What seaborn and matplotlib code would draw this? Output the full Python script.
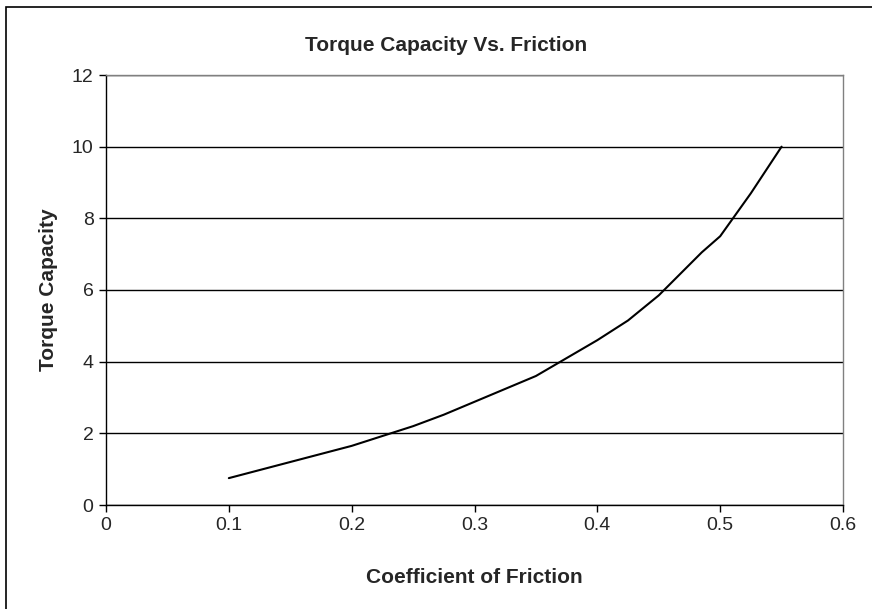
import matplotlib
matplotlib.use('Agg')
import matplotlib.pyplot as plt
import seaborn as sns
import pandas as pd
from matplotlib.patches import Rectangle

friction = [0.1, 0.2, 0.25, 0.275, 0.35, 0.4, 0.425, 0.45, 0.485, 0.5, 0.525, 0.55]
torque = [0.75, 1.65, 2.2, 2.52, 3.6, 4.6, 5.15, 5.85, 7.05, 7.5, 8.7, 10.0]

df = pd.DataFrame({'Coefficient of Friction': friction, 'Torque Capacity': torque})

sns.set_style('white')
plt.rcParams['font.family'] = ['Liberation Sans', 'DejaVu Sans']

fig = plt.figure(figsize=(8.72, 6.09), dpi=100)
ax = fig.add_axes([106/872, 1 - 505/609, 737/872, 430/609])

sns.lineplot(data=df, x='Coefficient of Friction', y='Torque Capacity', ax=ax,
             color='black', linewidth=1.5)

ax.set_xlim(0, 0.6)
ax.set_ylim(0, 12)
ax.set_xticks([0, 0.1, 0.2, 0.3, 0.4, 0.5, 0.6])
ax.set_xticklabels(['0', '0.1', '0.2', '0.3', '0.4', '0.5', '0.6'])
ax.set_yticks(range(0, 13, 2))
ax.yaxis.grid(True, color='black', linewidth=1)
ax.xaxis.grid(False)
ax.tick_params(axis='both', direction='out', length=5, width=1, color='black',
               labelsize=14, pad=4, bottom=True, left=True)

for s in ['left', 'bottom']:
    ax.spines[s].set_color('black')
    ax.spines[s].set_linewidth(1)
for s in ['top', 'right']:
    ax.spines[s].set_color('#808080')
    ax.spines[s].set_linewidth(1)

ax.set_xlabel('Coefficient of Friction', fontsize=15, fontweight='bold', labelpad=24)
ax.set_ylabel('Torque Capacity', fontsize=15, fontweight='bold', labelpad=10)
# the title is centred on the whole chart area, not on the plot area
ax.set_title('Torque Capacity Vs. Friction', fontsize=15, fontweight='bold', pad=17,
             x=(446 - 106) / 737)

# outer chart border (right and bottom edges fall outside the image)
fig.patches.append(Rectangle((6/872, -0.05), 1.0, 1.05 - 7/609, transform=fig.transFigure,
                             fill=False, edgecolor='black', linewidth=1.2))

fig.savefig('out.png', dpi=100)
